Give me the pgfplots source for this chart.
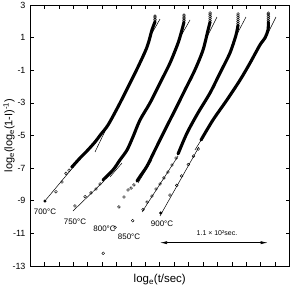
\documentclass[border=0pt]{standalone}
\usepackage{fontspec}
\setmainfont{Liberation Sans}
\usepackage{pgfplots}
\pgfplotsset{compat=1.18}
\usetikzlibrary{arrows.meta}
\pgfplotsset{
 sparse/.style={only marks, mark=o, mark size=1.4pt, mark options={line width=0.45pt}, black},
 filled/.style={only marks, mark=*, mark size=1.3pt, black},
 dense/.style={line width=3.1pt, black, line join=round, line cap=round, smooth, no marks},
 fit/.style={line width=0.5pt, black, no marks},
}
\begin{document}
\begin{tikzpicture}
\useasboundingbox (-30bp,-22bp) rectangle (265bp,266bp);
\begin{axis}[
 at={(0,0)}, anchor=south west,
 scale only axis, width=259.5bp, height=261bp,
 xmin=0, xmax=18, ymin=-13, ymax=3,
 xtick={1,...,17}, xticklabels={},
 ytick={-13,-11,...,3}, yticklabels={-13,-11,-9,-7,-5,-3,-1,1,3},
 tick align=inside, major tick length=4bp,
 tick style={black, line width=0.6pt},
 axis line style={line width=0.8pt},
 yticklabel style={font=\fontsize{9}{10}\selectfont, xshift=-1bp},
 every axis y label/.style={at={(axis description cs:0,0.5)}, xshift=-21bp, rotate=90, anchor=center},
 every axis x label/.style={at={(axis description cs:0.5,0)}, anchor=center, yshift=-14bp},
 ylabel={\fontsize{11}{12}\selectfont log\textsubscript{e}(log\textsubscript{e}(1-I)\textsuperscript{-1})},
 xlabel={\fontsize{11.5}{12}\selectfont log\textsubscript{e}(t/sec)},
 clip=false,
]
% ---------- 700 C ----------
\addplot[fit] coordinates {(0.97,-9.08)(3.12,-6.81)};
\addplot[fit] coordinates {(4.51,-6.01)(5.34,-4.48)};
\addplot[fit] coordinates {(8.39,1.16)(9.02,2.14)};
\addplot[filled] coordinates {(1.04,-9.02)};
\addplot[sparse] coordinates {(1.80,-8.45)(2.22,-7.85)(2.50,-7.32)(2.71,-7.13)(2.91,-6.93)};
\addplot[dense] coordinates {(2.91,-6.93)(3.47,-6.38)(3.95,-5.95)(4.51,-5.40)(4.93,-4.91)(5.41,-4.36)(6.10,-3.25)(6.80,-2.03)(7.49,-0.80)(8.12,0.43)(8.46,1.47)(8.67,1.96)};
\addplot[sparse] coordinates {(8.67,2.02)(8.67,2.12)(8.67,2.22)(8.67,2.32)};
% ---------- 750 C ----------
\addplot[fit] coordinates {(2.98,-9.63)(5.13,-7.79)};
\addplot[fit] coordinates {(5.55,-7.54)(6.38,-6.69)};
\addplot[fit] coordinates {(10.47,1.10)(11.10,2.08)};
\addplot[sparse] coordinates {(3.12,-9.32)(3.82,-8.75)(4.23,-8.52)(4.58,-8.28)(4.86,-7.97)};
\addplot[dense] coordinates {(5.06,-7.73)(5.76,-7.11)(6.24,-6.50)(6.73,-5.89)(7.14,-5.09)(7.63,-4.05)(8.32,-3.01)(9.02,-1.78)(9.71,-0.56)(10.27,0.67)(10.54,1.47)(10.68,1.96)};
\addplot[sparse] coordinates {(10.68,2.04)(10.68,2.15)(10.68,2.26)(10.68,2.38)};
% ---------- 800 C ----------
\addplot[fit] coordinates {(7.49,-7.91)(8.46,-6.50)};
\addplot[fit] coordinates {(12.28,1.04)(12.97,2.26)};
\addplot[sparse] coordinates {(5.08,-12.22)(5.90,-10.63)(6.17,-9.38)(6.52,-8.77)(6.80,-8.34)(7.01,-8.22)(7.21,-8.03)};
\addplot[dense] coordinates {(7.42,-7.79)(7.70,-7.42)(8.12,-6.87)(8.67,-5.89)(9.36,-4.66)(10.06,-3.44)(10.75,-2.21)(11.44,-0.98)(12.00,0.24)(12.35,1.47)(12.49,1.96)};
\addplot[sparse] coordinates {(12.49,2.04)(12.49,2.16)(12.49,2.28)(12.49,2.40)(12.49,2.51)};
% ---------- 850 C ----------
\addplot[fit] coordinates {(7.77,-9.69)(10.27,-6.26)};
\addplot[fit] coordinates {(14.22,0.98)(14.98,2.26)};
\addplot[sparse] coordinates {(7.12,-10.22)(7.84,-9.54)(8.12,-9.08)(8.46,-8.71)(8.74,-8.28)(9.02,-7.97)(9.29,-7.60)(9.57,-7.24)(9.85,-6.81)(10.13,-6.38)};
\addplot[dense] coordinates {(10.27,-6.13)(10.89,-4.85)(11.65,-3.62)(12.49,-2.39)(13.18,-1.17)(13.87,0.06)(14.29,1.16)(14.43,1.77)};
\addplot[sparse] coordinates {(14.43,1.86)(14.43,1.98)(14.43,2.10)(14.43,2.22)(14.43,2.34)(14.43,2.45)};
% ---------- 900 C ----------
\addplot[fit] coordinates {(9.02,-9.93)(11.72,-5.70)};
\addplot[fit] coordinates {(11.44,-5.89)(12.83,-3.93)};
\addplot[fit] coordinates {(16.37,1.04)(17.06,2.26)};
\addplot[filled] coordinates {(9.07,-9.75)};
\addplot[sparse] coordinates {(9.71,-8.65)(10.18,-8.06)(10.52,-7.48)(10.98,-6.78)(11.34,-6.26)(11.67,-5.83)};
\addplot[dense] coordinates {(11.86,-5.28)(12.69,-4.05)(13.66,-2.82)(14.57,-1.60)(15.26,-0.56)(15.95,0.55)(16.30,0.98)(16.51,1.47)(16.53,1.96)};
\addplot[sparse] coordinates {(16.53,2.04)(16.53,2.16)(16.53,2.28)(16.53,2.40)(16.53,2.50)};
% ---------- arrow ----------
\addplot[line width=0.6pt, black, {Latex[length=7bp,width=3bp]}-{Latex[length=7bp,width=3bp]}] coordinates {(9.02,-11.57)(16.49,-11.57)};
% ---------- labels ----------
\node[font=\fontsize{8}{9}\selectfont] at (axis cs:1.04,-9.69) {700°C};
\node[font=\fontsize{8}{9}\selectfont] at (axis cs:3.12,-10.27) {750°C};
\node[font=\fontsize{8}{9}\selectfont] at (axis cs:5.17,-10.70) {800°C};
\node[font=\fontsize{8}{9}\selectfont] at (axis cs:6.87,-11.22) {850°C};
\node[font=\fontsize{8}{9}\selectfont] at (axis cs:9.16,-10.39) {900°C};
\node[font=\fontsize{7}{8}\selectfont] at (axis cs:12.97,-10.98) {1.1 × 10²sec.};
\end{axis}
\end{tikzpicture}
\end{document}
